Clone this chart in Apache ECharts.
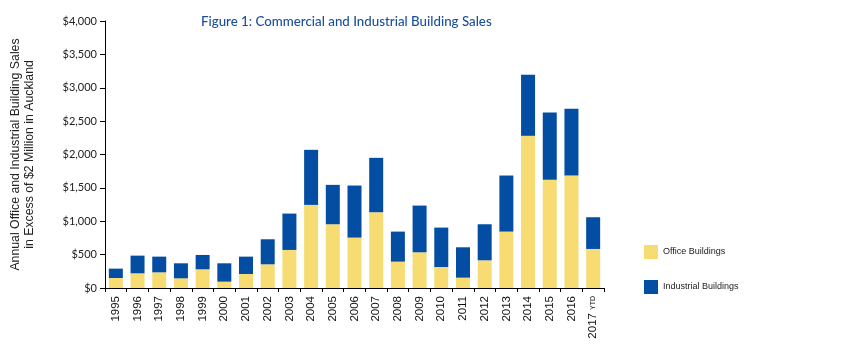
<!DOCTYPE html>
<html>
<head>
<meta charset="utf-8">
<script src="https://cdn.jsdelivr.net/npm/echarts@6/dist/echarts.min.js"></script>
<style>
  html, body { margin: 0; padding: 0; background: #fff; }
  #chart { width: 850px; height: 350px; }
</style>
</head>
<body>
<div id="chart"></div>
<script>
var years = ['1995','1996','1997','1998','1999','2000','2001','2002','2003','2004','2005','2006',
             '2007','2008','2009','2010','2011','2012','2013','2014','2015','2016','2017 YTD'];
var office = [150,220,235,145,280,95,210,355,570,1245,955,755,1135,395,535,315,155,415,845,2280,1620,1685,585];
var industrial = [140,265,235,225,215,275,260,375,545,825,590,780,815,450,700,590,455,540,840,915,1010,1000,475];

var chart = echarts.init(document.getElementById('chart'));
chart.setOption({
    animation: false,
    title: {
        text: 'Figure 1: Commercial and Industrial Building Sales',
        left: 196, top: 10,
        textStyle: { color: '#1a4f9c', fontSize: 13.3, fontWeight: 500, fontFamily: 'Lato' }
    },
    legend: {
        orient: 'vertical',
        left: 639, top: 240,
        itemWidth: 14, itemHeight: 14, itemGap: 21,
        icon: 'rect',
        textStyle: { fontSize: 9, color: '#222', fontFamily: 'Liberation Sans' },
        data: ['Office Buildings', 'Industrial Buildings']
    },
    grid: { left: 105, right: 246, top: 21, bottom: 62 },
    xAxis: {
        type: 'category',
        data: years,
        axisLine: { lineStyle: { color: '#000', width: 1 } },
        axisTick: { show: true, alignWithLabel: false, length: 4, lineStyle: { color: '#000' } },
        axisLabel: {
            rotate: 90, margin: 8, interval: 0,
            color: '#111', fontSize: 11, fontFamily: 'Liberation Sans',
            formatter: function (v) {
                if (v.indexOf('YTD') >= 0) return '{b|2017} {s|YTD}';
                return '{b|' + v + '}';
            },
            rich: {
                b: { fontSize: 11.5, color: '#111', fontFamily: 'Liberation Sans' },
                s: { fontSize: 7, color: '#111', fontFamily: 'Liberation Sans' }
            }
        }
    },
    yAxis: {
        type: 'value',
        min: 0, max: 4000, interval: 500,
        name: 'Annual Office and Industrial Building Sales\nin Excess of $2 Million in Auckland',
        nameLocation: 'middle',
        nameGap: 68,
        nameTextStyle: { fontSize: 12.3, color: '#222', fontFamily: 'Liberation Sans', lineHeight: 14 },
        axisLine: { show: true, lineStyle: { color: '#000', width: 1 } },
        axisTick: { show: true, length: 5, lineStyle: { color: '#000' } },
        splitLine: { show: false },
        axisLabel: {
            color: '#222', fontSize: 11, fontFamily: 'Lato', margin: 8,
            formatter: function (v) { return '$' + v.toLocaleString('en-US'); }
        }
    },
    series: [
        {
            name: 'Office Buildings', type: 'bar', stack: 'total',
            barWidth: 14,
            itemStyle: { color: '#f7dc74' },
            data: office
        },
        {
            name: 'Industrial Buildings', type: 'bar', stack: 'total',
            barWidth: 14,
            itemStyle: { color: '#034ea2' },
            data: industrial
        }
    ]
});
</script>
</body>
</html>
